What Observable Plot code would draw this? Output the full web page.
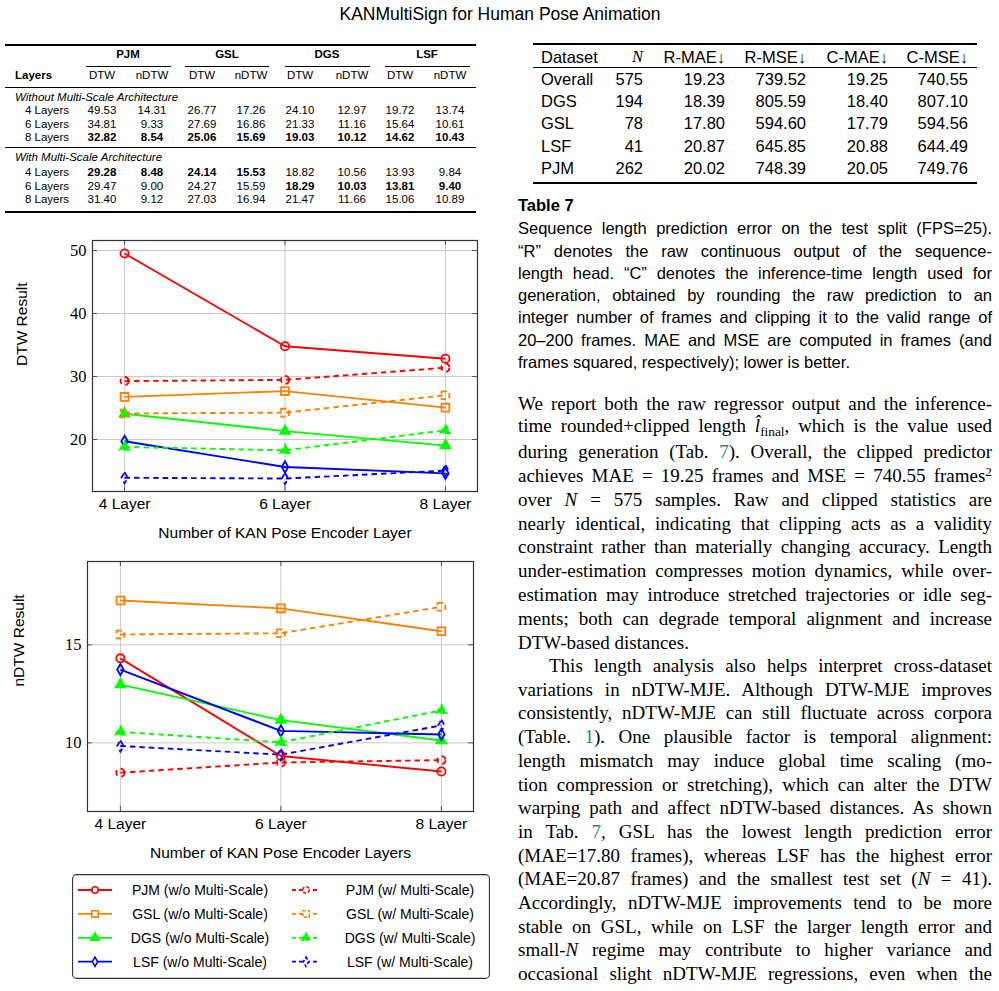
<!DOCTYPE html>
<html><head><meta charset="utf-8">
<script src="https://cdn.jsdelivr.net/npm/d3@7"></script>
<script src="https://cdn.jsdelivr.net/npm/@observablehq/plot@0.6"></script>
<style>
html,body{margin:0;padding:0;background:#fff;}
#page{position:relative;width:999px;height:991px;overflow:hidden;font-family:"Liberation Sans",Arial,sans-serif;color:#000;}
.abs{position:absolute;white-space:nowrap;line-height:1;}
.jl{position:absolute;white-space:nowrap;text-align:justify;text-align-last:justify;line-height:1;transform:translateY(-50%);}
.jl.last{text-align-last:left;}
.serif{font-family:"Liberation Serif","Times New Roman",serif;}
.lnk{color:#2f8585;}
.rule{position:absolute;background:#000;}
</style>
</head><body><div id="page"></div>
<script>
// ---------------- data ----------------
const layers = [4, 6, 8];
const datasets = ["PJM", "GSL", "DGS", "LSF"];
const seriesColors = ["#ff0000", "#ff8000", "#00ff00", "#0000ff"];
const seriesSymbols = ["circle", "square", "triangle", "diamond"];
const layerLabels = ["4 Layers", "6 Layers", "8 Layers"];

// DTW / nDTW per dataset (rows) over layers 4,6,8 (cols)
const dtwWithoutMS = [[49.53, 34.81, 32.82], [26.77, 27.69, 25.06], [24.10, 21.33, 19.03], [19.72, 15.64, 14.62]];
const dtwWithMS    = [[29.28, 29.47, 31.40], [24.14, 24.27, 27.03], [18.82, 18.29, 21.47], [13.93, 13.81, 15.06]];
const ndtwWithoutMS = [[14.31, 9.33, 8.54], [17.26, 16.86, 15.69], [12.97, 11.16, 10.12], [13.74, 10.61, 10.43]];
const ndtwWithMS    = [[8.48, 9.00, 9.12], [15.53, 15.59, 16.94], [10.56, 10.03, 11.66], [9.84, 9.40, 10.89]];

const dtwTicks = [20, 30, 40, 50];
const ndtwTicks = [10, 15];

// Table 7
const t7Header = ["Dataset", "<i class='serif'>N</i>", "R-MAE↓", "R-MSE↓", "C-MAE↓", "C-MSE↓"];
const t7Datasets = ["Overall", "DGS", "GSL", "LSF", "PJM"];
const t7N = [575, 194, 78, 41, 262];
const t7RMAE = ["19.23", "18.39", "17.80", "20.87", "20.02"];
const t7RMSE = ["739.52", "805.59", "594.60", "645.85", "748.39"];
const t7CMAE = ["19.25", "18.40", "17.79", "20.88", "20.05"];
const t7CMSE = ["740.55", "807.10", "594.56", "644.49", "749.76"];

const captionLines = [
  "Sequence length prediction error on the test split (FPS=25).",
  "“R” denotes the raw continuous output of the sequence-",
  "length head. “C” denotes the inference-time length used for",
  "generation, obtained by rounding the raw prediction to an",
  "integer number of frames and clipping it to the valid range of",
  "20–200 frames. MAE and MSE are computed in frames (and",
  "frames squared, respectively); lower is better."
];
const para1 = [
  "We report both the raw regressor output and the inference-",
  "time rounded+clipped length <i>l&#770;</i><sub style='font-size:0.7em;vertical-align:-0.3em'>final</sub>, which is the value used",
  "during generation (Tab. <span class='lnk'>7</span>). Overall, the clipped predictor",
  "achieves MAE = 19.25 frames and MSE = 740.55 frames<sup style='font-size:0.7em;vertical-align:0.45em'>2</sup>",
  "over <i>N</i> = 575 samples. Raw and clipped statistics are",
  "nearly identical, indicating that clipping acts as a validity",
  "constraint rather than materially changing accuracy. Length",
  "under-estimation compresses motion dynamics, while over-",
  "estimation may introduce stretched trajectories or idle seg-",
  "ments; both can degrade temporal alignment and increase",
  "DTW-based distances."
];
const para2 = [
  "This length analysis also helps interpret cross-dataset",
  "variations in nDTW-MJE. Although DTW-MJE improves",
  "consistently, nDTW-MJE can still fluctuate across corpora",
  "(Table. <span class='lnk'>1</span>). One plausible factor is temporal alignment:",
  "length mismatch may induce global time scaling (mo-",
  "tion compression or stretching), which can alter the DTW",
  "warping path and affect nDTW-based distances. As shown",
  "in Tab. <span class='lnk'>7</span>, GSL has the lowest length prediction error",
  "(MAE=17.80 frames), whereas LSF has the highest error",
  "(MAE=20.87 frames) and the smallest test set (<i>N</i> = 41).",
  "Accordingly, nDTW-MJE improvements tend to be more",
  "stable on GSL, while on LSF the larger length error and",
  "small-<i>N</i> regime may contribute to higher variance and",
  "occasional slight nDTW-MJE regressions, even when the"
];

// ---------------- helpers ----------------
const page = document.getElementById("page");
function addText(html, x, y, o = {}) {
  const d = document.createElement("div");
  d.className = "abs" + (o.cls ? " " + o.cls : "");
  d.innerHTML = html;
  const tx = o.align === "center" ? "-50%" : o.align === "right" ? "-100%" : "0";
  d.style.left = x + "px"; d.style.top = y + "px";
  d.style.transform = `translate(${tx},-50%)`;
  if (o.size) d.style.fontSize = o.size + "px";
  if (o.weight) d.style.fontWeight = o.weight;
  if (o.italic) d.style.fontStyle = "italic";
  page.appendChild(d);
  return d;
}
function addRule(x1, x2, y, w) {
  const d = document.createElement("div");
  d.className = "rule";
  d.style.left = x1 + "px"; d.style.width = (x2 - x1) + "px";
  d.style.top = (y - w / 2) + "px"; d.style.height = w + "px";
  page.appendChild(d);
}
function addLines(lines, x, y0, step, size, cls, indent, lastLeft) {
  lines.forEach((l, i) => {
    const d = document.createElement("div");
    d.className = "jl " + cls + (lastLeft && i === lines.length - 1 ? " last" : "");
    d.innerHTML = l;
    const ind = i === 0 ? indent : 0;
    d.style.left = (x + ind) + "px";
    d.style.width = (474 - ind) + "px";
    d.style.top = (y0 + i * step) + "px";
    d.style.fontSize = size + "px";
    page.appendChild(d);
  });
}

// ---------------- title ----------------
addText("KANMultiSign for Human Pose Animation", 500, 15, {align: "center", size: 17.5});

// ---------------- left table ----------------
const tabFS = 11.5;
const colX = [102, 152, 202, 251, 300, 352, 400, 450];
const groupX = [128, 227, 327, 427];
const cmid = [[86, 171], [185, 269], [285, 370], [385, 470]];
addRule(5, 476, 45, 1.4);
datasets.forEach((ds, i) => {
  addText(ds, groupX[i], 55, {align: "center", size: tabFS, weight: "bold"});
  addRule(cmid[i][0], cmid[i][1], 66, 0.8);
});
addText("Layers", 15, 76, {size: tabFS, weight: "bold"});
colX.forEach((x, j) => addText(j % 2 ? "nDTW" : "DTW", x, 76, {align: "center", size: tabFS}));
addRule(5, 476, 87, 0.9);
function tableBlock(title, yTitle, yRows, dtwArr, ndtwArr) {
  addText(title, 15, yTitle, {size: tabFS, italic: true});
  const cols = [];
  datasets.forEach((ds, i) => { cols.push(dtwArr[i]); cols.push(ndtwArr[i]); });
  const mins = cols.map(c => d3.min(c));
  layerLabels.forEach((lab, r) => {
    addText(lab, 47, yRows[r], {align: "center", size: tabFS});
    cols.forEach((c, j) => {
      addText(c[r].toFixed(2), colX[j], yRows[r], {align: "center", size: tabFS, weight: c[r] === mins[j] ? "bold" : null});
    });
  });
}
tableBlock("Without Multi-Scale Architecture", 98, [111, 125, 138], dtwWithoutMS, ndtwWithoutMS);
addRule(5, 476, 147, 0.9);
tableBlock("With Multi-Scale Architecture", 158, [173, 187, 200], dtwWithMS, ndtwWithMS);
addRule(5, 476, 212, 1.4);

// ---------------- right table (Table 7) ----------------
const t7FS = 16.5;
const t7X = [541, 643, 725, 806, 888, 968];
addRule(533, 977, 44, 1.4);
t7Header.forEach((h, j) => addText(h, t7X[j], 57, {align: j === 0 ? "left" : "right", size: t7FS}));
addRule(533, 977, 67, 0.9);
const t7Rows = [79, 101, 123, 146, 168];
t7Datasets.forEach((ds, i) => {
  const vals = [ds, t7N[i], t7RMAE[i], t7RMSE[i], t7CMAE[i], t7CMSE[i]];
  vals.forEach((v, j) => addText(String(v), t7X[j], t7Rows[i], {align: j === 0 ? "left" : "right", size: t7FS}));
});
addRule(533, 977, 183, 1.4);

// ---------------- caption & body text ----------------
addText("Table 7", 518, 205, {size: 16.5, weight: "bold"});
addLines(captionLines, 518, 228.3, 22.25, 16.5, "", 0, true);
addLines(para1, 518, 403.3, 23.85, 19, "serif", 0, true);
addLines(para2, 518, 665, 23.7, 19, "serif", 31, false);

// ---------------- charts ----------------
function toRows(arr) {
  return arr.map((vals, i) => vals.map((v, j) => ({layer: layers[j], value: v, ds: datasets[i]})));
}
function chart(cfg) {
  const fw = cfg.width - cfg.ml - cfg.mr, fh = cfg.height - cfg.mt - cfg.mb;
  const tl = 5;
  const marks = [
    Plot.gridY({ticks: cfg.yTicks, stroke: "#c9c9c9", strokeOpacity: 1}),
    Plot.gridX({ticks: layers, stroke: "#c9c9c9", strokeOpacity: 1}),
    Plot.tickY(cfg.yTicks, {y: d => d, insetRight: fw - tl, stroke: "#555"}),
    Plot.tickY(cfg.yTicks, {y: d => d, insetLeft: fw - tl, stroke: "#555"}),
    Plot.tickX(layers, {x: d => d, insetTop: fh - tl, stroke: "#555"}),
    Plot.tickX(layers, {x: d => d, insetBottom: fh - tl, stroke: "#555"}),
    Plot.axisY({ticks: cfg.yTicks, tickSize: 0, tickPadding: 6, label: null, fontFamily: "Liberation Serif", fontSize: 16.5}),
    Plot.axisX({ticks: layers, tickSize: 0, tickPadding: 6, label: null, tickFormat: d => `${d} Layer`}),
    Plot.text([cfg.xLabel], {frameAnchor: "bottom", dy: 46, text: d => d}),
    Plot.text([cfg.yLabel], {frameAnchor: "left", dx: cfg.yDx, rotate: -90, text: d => d})
  ];
  const groups = [[toRows(cfg.without), null], [toRows(cfg.with), "5.5,4"]];
  groups.forEach(([rowsByDs, dash]) => {
    rowsByDs.forEach((rows, i) => {
      marks.push(Plot.line(rows, {x: "layer", y: "value", stroke: seriesColors[i], strokeWidth: 1.9,
        strokeDasharray: dash, strokeLinecap: "butt", strokeLinejoin: "miter"}));
    });
  });
  groups.forEach(([rowsByDs, dash]) => {
    rowsByDs.forEach((rows, i) => {
      const sym = seriesSymbols[i];
      const r = sym === "diamond" ? 3.4 : sym === "triangle" ? 3.6 : sym === "square" ? 4.4 : 4.1;
      marks.push(Plot.dot(rows, {x: "layer", y: "value", symbol: sym, r,
        stroke: seriesColors[i], fill: sym === "triangle" ? seriesColors[i] : "none",
        strokeWidth: 1.8, strokeDasharray: dash}));
    });
  });
  marks.push(Plot.frame({stroke: "#333", strokeWidth: 1.2}));
  const svg = Plot.plot({
    width: cfg.width, height: cfg.height,
    marginLeft: cfg.ml, marginRight: cfg.mr, marginTop: cfg.mt, marginBottom: cfg.mb,
    x: {type: "linear", domain: cfg.xDomain},
    y: {type: "linear", domain: cfg.yDomain},
    style: {background: "transparent", fontFamily: "Liberation Sans", fontSize: "15.5px", overflow: "visible", color: "#000"},
    marks
  });
  const holder = document.createElement("div");
  holder.style.cssText = `position:absolute;left:${cfg.left}px;top:${cfg.top}px;`;
  holder.appendChild(svg);
  page.appendChild(holder);
}

chart({left: 0, top: 228, width: 490, height: 317, ml: 92, mr: 13, mt: 12, mb: 54,
  xDomain: [3.6, 8.4], yDomain: [11.75, 51.6], yTicks: dtwTicks,
  without: dtwWithoutMS, with: dtwWithMS,
  xLabel: "Number of KAN Pose Encoder Layer", yLabel: "DTW Result", yDx: -70});

chart({left: 0, top: 550, width: 490, height: 320, ml: 87, mr: 17, mt: 11, mb: 59,
  xDomain: [3.59, 8.4], yDomain: [6.5, 19.25], yTicks: ndtwTicks,
  without: ndtwWithoutMS, with: ndtwWithMS,
  xLabel: "Number of KAN Pose Encoder Layers", yLabel: "nDTW Result", yDx: -68});

// ---------------- legend ----------------
const legW = 418, legH = 105;
const leg = d3.create("svg").attr("width", legW).attr("height", legH)
  .style("position", "absolute").style("left", "72px").style("top", "874px")
  .style("font-family", "Liberation Sans").style("font-size", "14px");
leg.append("rect").attr("x", 0.6).attr("y", 0.6).attr("width", legW - 1.2).attr("height", legH - 1.2)
  .attr("rx", 4).attr("fill", "#fff").attr("stroke", "#333").attr("stroke-width", 1.1);
const symMap = {circle: d3.symbolCircle, square: d3.symbolSquare, triangle: d3.symbolTriangle, diamond: d3.symbolDiamond};
datasets.forEach((ds, i) => {
  const y = 16 + i * 23.9;
  const sym = seriesSymbols[i];
  const rr = sym === "square" ? 3.6 : sym === "diamond" ? 2.8 : 3.2;
  [[6, 40, null, 128, "(w/o Multi-Scale)"], [220, 248, "4,3", 338, "(w/ Multi-Scale)"]].forEach(([x1, x2, dash, tx, suffix]) => {
    leg.append("line").attr("x1", x1).attr("x2", x2).attr("y1", y).attr("y2", y)
      .attr("stroke", seriesColors[i]).attr("stroke-width", 1.8).attr("stroke-dasharray", dash);
    leg.append("path").attr("d", d3.symbol(symMap[sym], Math.PI * rr * rr)())
      .attr("transform", `translate(${(x1 + x2) / 2},${y})`)
      .attr("fill", sym === "triangle" ? seriesColors[i] : "#fff")
      .attr("stroke", seriesColors[i]).attr("stroke-width", 1.6).attr("stroke-dasharray", dash ? "3,2" : null);
    leg.append("text").attr("x", tx).attr("y", y).attr("dy", "0.35em").attr("text-anchor", "middle")
      .text(`${ds} ${suffix}`);
  });
});
page.appendChild(leg.node());
</script>
</body></html>
